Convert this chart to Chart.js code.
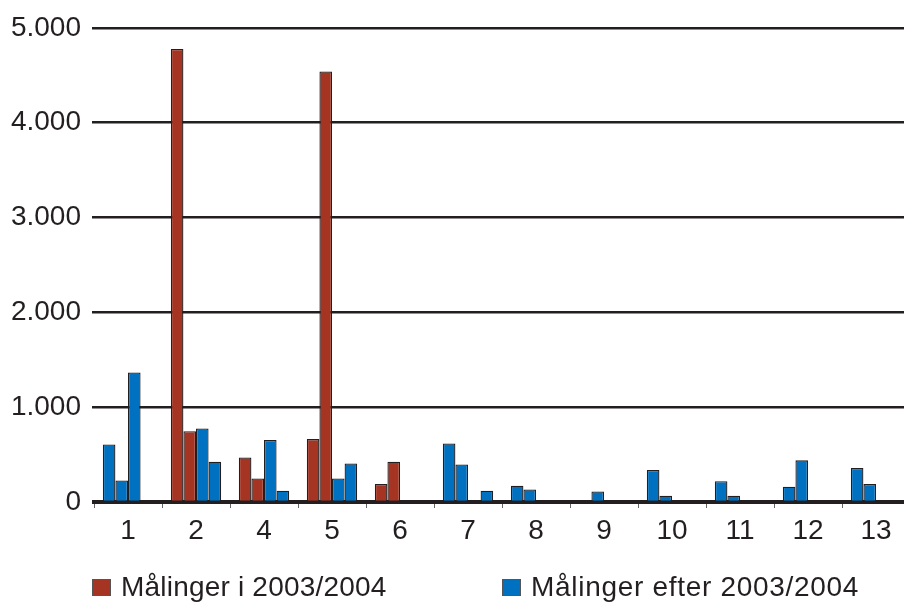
<!DOCTYPE html>
<html>
<head>
<meta charset="utf-8">
<script src="https://cdn.jsdelivr.net/npm/chart.js@4"></script>
<style>
    html, body { margin: 0; padding: 0; background: #fff; overflow: hidden; }
    #wrap { position: relative; width: 904px; height: 603px; overflow: hidden; }
    #chart { position: absolute; left: 0; top: 0; }
    .leg { position: absolute; top: 573px; height: 28px; line-height: 28px; font-family: 'Liberation Sans', Arial, sans-serif; font-size: 28px; color: #231f20; white-space: nowrap; letter-spacing: 0.2px; }
    .box { position: absolute; top: 579px; width: 19px; height: 17px; box-sizing: border-box; border: 1px solid #555; }
</style>
</head>
<body>
<div id="wrap">
    <canvas id="chart" width="910" height="603"></canvas>
    <div class="box" style="left:92px;background:#a53422"></div>
    <div class="leg" style="left:121px">Målinger i 2003/2004</div>
    <div class="box" style="left:502px;background:#0070c0"></div>
    <div class="leg" style="left:531px;letter-spacing:0.7px">Målinger efter 2003/2004</div>
</div>
<script>
    // Målesteder (nr. 3 mangler)
    const categories = ['1', '2', '4', '5', '6', '7', '8', '9', '10', '11', '12', '13'];

    // op til fire målinger pr. sted
    const maaling1 = [607, 4776, 470, 663, 189, 617, 172, null, 337, 218, 161, 358];
    const maaling2 = [228, 747, 249, 4540, 424, 396, 133, 112, 67, 67, 439, 189];
    const maaling3 = [1365, 775, 653, 249, null, null, null, null, null, null, null, null];
    const maaling4 = [null, 424, 119, 407, null, 119, null, null, null, null, null, null];

    // antal af de første målinger der er fra 2003/2004 (resten er efter)
    const antalI2003 = [0, 2, 2, 2, 2, 0, 0, 0, 0, 0, 0, 0];

    const yTicks = [0, 1000, 2000, 3000, 4000, 5000];

    const rod = '#a53422';
    const bla = '#0070c0';
    const sort = '#231f20';
    const font = "'Liberation Sans', Arial, sans-serif";

    function farver(slot) {
        return antalI2003.map(n => (slot < n ? rod : bla));
    }

    function formatTal(v) {
        return v.toString().replace(/\B(?=(\d{3})+(?!\d))/g, '.');
    }

    const maalinger = [maaling1, maaling2, maaling3, maaling4];

    const ctx = document.getElementById('chart').getContext('2d');
    new Chart(ctx, {
        type: 'bar',
        data: {
            labels: categories,
            datasets: maalinger.map((data, i) => ({
                label: 'Måling ' + (i + 1),
                data: data,
                backgroundColor: farver(i),
                borderColor: sort,
                borderWidth: 1.3,
                barPercentage: 1,
                categoryPercentage: 0.74
            }))
        },
        options: {
            responsive: false,
            animation: false,
            layout: { padding: { left: 0, right: 0, top: 27, bottom: 0 } },
            plugins: {
                legend: { display: false },
                tooltip: { enabled: false }
            },
            scales: {
                x: {
                    grid: {
                        offset: true,
                        drawOnChartArea: false,
                        tickLength: 6,
                        color: '#666',
                        lineWidth: 1
                    },
                    border: { display: true, color: sort, width: 4 },
                    ticks: {
                        color: sort,
                        padding: 6,
                        font: { family: font, size: 28 }
                    },
                    afterFit: function (scale) { scale.height = 101; }
                },
                y: {
                    min: 0,
                    max: 5000,
                    afterBuildTicks: function (scale) {
                        scale.ticks = yTicks.map(v => ({ value: v }));
                    },
                    grid: {
                        color: sort,
                        lineWidth: 2.5,
                        tickLength: 2
                    },
                    border: { display: false },
                    ticks: {
                        color: sort,
                        padding: 11,
                        font: { family: font, size: 28 },
                        callback: function (value) { return formatTal(value); }
                    },
                    afterFit: function (scale) { scale.width = 94; }
                }
            }
        }
    });
</script>
</body>
</html>
